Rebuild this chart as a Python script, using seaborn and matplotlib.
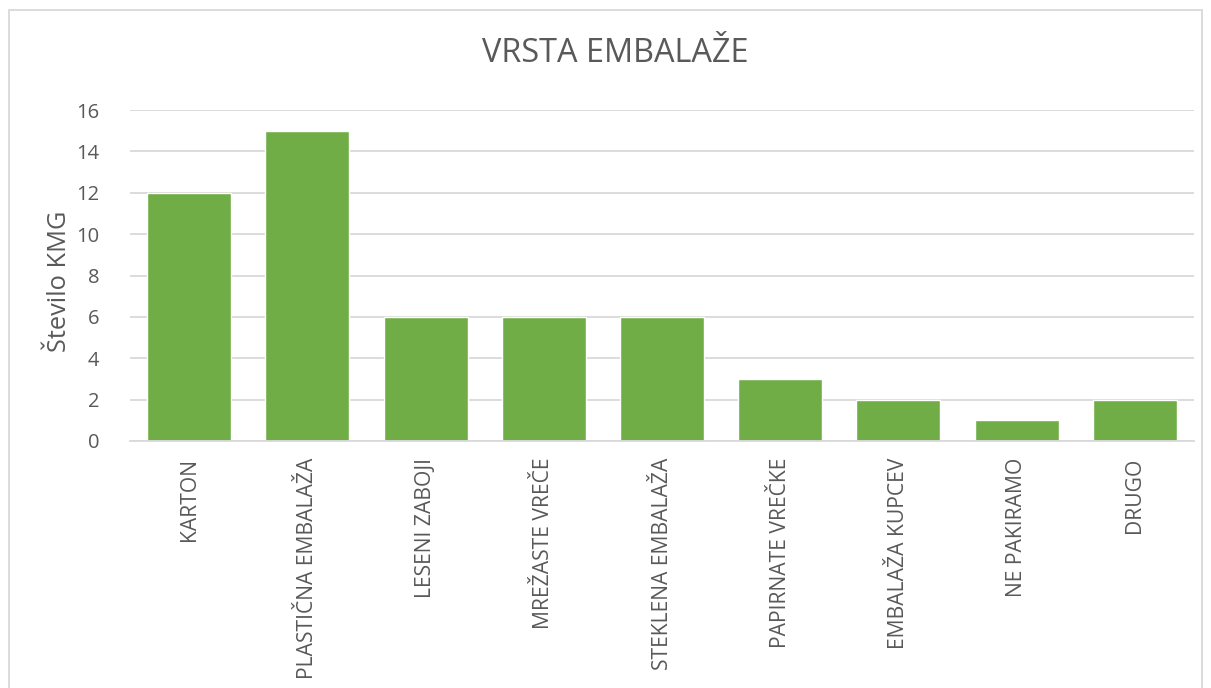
import matplotlib
matplotlib.use("Agg")
import matplotlib.pyplot as plt
import seaborn as sns
import pandas as pd
from matplotlib.patches import Rectangle

categories = ["KARTON", "PLASTIČNA EMBALAŽA", "LESENI ZABOJI", "MREŽASTE VREČE",
              "STEKLENA EMBALAŽA", "PAPIRNATE VREČKE", "EMBALAŽA KUPCEV",
              "NE PAKIRAMO", "DRUGO"]
values = [12, 15, 6, 6, 6, 3, 2, 1, 2]
yticks = [0, 2, 4, 6, 8, 10, 12, 14, 16]

sns.set_theme(style="white")
plt.rcParams['font.family'] = ['Open Sans', 'DejaVu Sans']

gray = "#595959"
df = pd.DataFrame({"cat": categories, "val": values})

fig = plt.figure(figsize=(12.11, 6.88), dpi=100)
ax = fig.add_axes([130/1211, 247/688, 1064/1211, 331/688])

sns.barplot(data=df, x="cat", y="val", color="#70AD47", saturation=1,
            width=0.71, ax=ax, zorder=3)

ax.set_ylim(0, 16)
ax.set_yticks(yticks)
ax.set_xlim(-0.5, len(categories) - 0.5)
ax.yaxis.grid(True, color="#D9D9D9", linewidth=1.3, zorder=0)
ax.xaxis.grid(False)
for s in ["top", "right", "left"]:
    ax.spines[s].set_visible(False)
ax.spines["bottom"].set_color("#D9D9D9")
ax.spines["bottom"].set_linewidth(1.3)
ax.spines["bottom"].set_zorder(4)
ax.tick_params(axis="y", length=0, colors=gray, labelsize=14.5, pad=22)
ax.tick_params(axis="x", length=0, colors=gray, labelsize=15.2, pad=12)
for lbl in ax.get_xticklabels():
    lbl.set_rotation(90)
    lbl.set_va("top")
ax.set_xlabel("")
ax.set_ylabel("Število KMG", color=gray, fontsize=18.3)
ax.yaxis.set_label_coords((72 - 130) / 1064, (441 - 281.5) / 331)

fig.text(615/1211, 1 - 53/688, "VRSTA EMBALAŽE", ha="center", va="center",
         color=gray, fontsize=23.4)

fig.patches.append(Rectangle((9/1211, -0.01), 1193/1211, 1 - 10/688 + 0.01,
                             transform=fig.transFigure, fill=False,
                             edgecolor="#D9D9D9", linewidth=1.3))

fig.savefig("out.png", dpi=100)
